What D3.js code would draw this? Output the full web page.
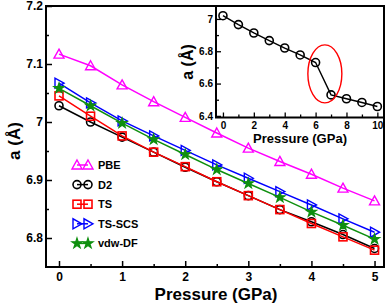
<!DOCTYPE html>
<html>
<head>
<meta charset="utf-8">
<script src="https://cdn.jsdelivr.net/npm/d3@7"></script>
<style>
  body { margin: 0; background: #fff; }
  svg { display: block; font-family: "Liberation Sans", Arial, sans-serif; font-weight: bold; }
</style>
</head>
<body>
<svg id="svg" width="388" height="305"></svg>
<script>
// main panel data
var pressure = [0, 0.5, 1, 1.5, 2, 2.5, 3, 3.5, 4, 4.5, 5];
var pbe   = [7.117, 7.097, 7.064, 7.035, 7.008, 6.981, 6.955, 6.932, 6.910, 6.886, 6.864];
var d2    = [7.028, 7.000, 6.974, 6.948, 6.922, 6.897, 6.873, 6.849, 6.828, 6.806, 6.782];
var ts    = [7.045, 7.010, 6.976, 6.948, 6.923, 6.897, 6.873, 6.849, 6.825, 6.802, 6.779];
var tsscs = [7.067, 7.033, 7.002, 6.976, 6.951, 6.926, 6.903, 6.880, 6.857, 6.833, 6.810];
var vdwdf = [7.058, 7.028, 6.998, 6.970, 6.944, 6.918, 6.894, 6.870, 6.845, 6.822, 6.798];
var seriesNames = ['PBE', 'D2', 'TS', 'TS-SCS', 'vdw-DF'];
var xTicks = [0, 1, 2, 3, 4, 5];
var yTicks = [6.8, 6.9, 7, 7.1, 7.2];

// inset data
var insetP = [0, 1, 2, 3, 4, 5, 6, 7, 8, 9, 10];
var insetA = [7.02, 6.965, 6.913, 6.866, 6.82, 6.777, 6.73, 6.53, 6.506, 6.483, 6.458];
var insetXTicks = [0, 2, 4, 6, 8, 10];
var insetYTicks = [6.4, 6.6, 6.8, 7];

var svg = d3.select('svg');

var mLeft = 46, mTop = 6, mRight = 384, mBottom = 267;

var x = d3.scaleLinear().domain([-0.206, 5.15]).range([mLeft, mRight]);
var y = d3.scaleLinear().domain([6.75, 7.2]).range([mBottom, mTop]);

// minor ticks
svg.append('g')
    .attr('transform', 'translate(0,' + mBottom + ')')
    .call(d3.axisBottom(x).tickValues(d3.range(0.5, 5, 1)).tickSize(-3).tickFormat(''))
    .call(function(g){ g.select('.domain').remove(); });
svg.append('g')
    .attr('transform', 'translate(' + mLeft + ',0)')
    .call(d3.axisLeft(y).tickValues([6.85, 6.95, 7.05, 7.15]).tickSize(-3).tickFormat(''))
    .call(function(g){ g.select('.domain').remove(); });

var xAxis = svg.append('g')
    .attr('transform', 'translate(0,' + mBottom + ')')
    .call(d3.axisBottom(x).tickValues(xTicks).tickSize(-6).tickPadding(5).tickFormat(d3.format('d')));
xAxis.select('.domain').remove();
xAxis.selectAll('text').attr('font-size', 12).attr('font-family', null).attr('fill', '#000');

var yAxis = svg.append('g')
    .attr('transform', 'translate(' + mLeft + ',0)')
    .call(d3.axisLeft(y).tickValues(yTicks).tickSize(-6).tickPadding(3).tickFormat(function(d){ return d === 7 ? '7' : d3.format('.1f')(d); }));
yAxis.select('.domain').remove();
yAxis.selectAll('text').attr('font-size', 12).attr('font-family', null).attr('fill', '#000');

svg.selectAll('.tick line').attr('stroke', '#000').attr('stroke-width', 1.5);

svg.append('rect')
    .attr('x', mLeft).attr('y', mTop)
    .attr('width', mRight - mLeft).attr('height', mBottom - mTop)
    .attr('fill', 'none').attr('stroke', '#000').attr('stroke-width', 2);

svg.append('text')
    .attr('x', 216).attr('y', 300)
    .attr('text-anchor', 'middle')
    .attr('font-size', 17)
    .text('Pressure (GPa)');

svg.append('text')
    .attr('transform', 'translate(20,141) rotate(-90)')
    .attr('text-anchor', 'middle')
    .attr('font-size', 17)
    .text('a (Å)');

var series = [
    {name: seriesNames[0], vals: pbe,   color: '#ff00ff', shape: 'triUp'},
    {name: seriesNames[1], vals: d2,    color: '#000000', shape: 'circle'},
    {name: seriesNames[2], vals: ts,    color: '#ff0000', shape: 'square'},
    {name: seriesNames[3], vals: tsscs, color: '#0000ff', shape: 'triRight'},
    {name: seriesNames[4], vals: vdwdf, color: '#0f8f0f', shape: 'star'}
];

function drawMarker(g, shape, color, cx, cy) {
    if (shape === 'circle') {
        g.append('circle').attr('cx', cx).attr('cy', cy).attr('r', 4)
            .attr('fill', 'none').attr('stroke', color).attr('stroke-width', 1.6);
    } else if (shape === 'square') {
        g.append('rect').attr('x', cx - 4).attr('y', cy - 4).attr('width', 8).attr('height', 8)
            .attr('fill', 'none').attr('stroke', color).attr('stroke-width', 1.6);
    } else if (shape === 'triUp') {
        g.append('path').attr('d', 'M' + cx + ',' + (cy - 5) + 'L' + (cx + 5) + ',' + (cy + 4) + 'L' + (cx - 5) + ',' + (cy + 4) + 'Z')
            .attr('fill', 'none').attr('stroke', color).attr('stroke-width', 1.4);
    } else if (shape === 'triRight') {
        g.append('path').attr('d', 'M' + (cx + 5) + ',' + cy + 'L' + (cx - 4) + ',' + (cy - 5) + 'L' + (cx - 4) + ',' + (cy + 5) + 'Z')
            .attr('fill', 'none').attr('stroke', color).attr('stroke-width', 1.4);
    } else {
        g.append('path').attr('d', d3.symbol().type(d3.symbolStar).size(32)())
            .attr('transform', 'translate(' + cx + ',' + cy + ')')
            .attr('fill', color).attr('stroke', color).attr('stroke-width', 1.2);
    }
}

var line = d3.line()
    .x(function(d, i){ return x(pressure[i]); })
    .y(function(d){ return y(d); });

series.forEach(function(s){
    var g = svg.append('g');
    g.append('path')
        .attr('d', line(s.vals))
        .attr('fill', 'none')
        .attr('stroke', s.color)
        .attr('stroke-width', 1.5);
    s.vals.forEach(function(v, i){
        drawMarker(g, s.shape, s.color, x(pressure[i]), y(v));
    });
});

// legend
series.forEach(function(s, i){
    var ly = 165 + i * 19.6;
    var g = svg.append('g');
    g.append('line').attr('x1', 77).attr('x2', 88).attr('y1', ly).attr('y2', ly)
        .attr('stroke', s.color).attr('stroke-width', 1.5);
    drawMarker(g, s.shape, s.color, 77, ly);
    drawMarker(g, s.shape, s.color, 88, ly);
    g.append('text').attr('x', 98).attr('y', ly + 4)
        .attr('font-size', 11)
        .text(s.name);
});

// inset
var il = 216, it = 6, ir = 384, ib = 117.5;
var xi = d3.scaleLinear().domain([-0.45, 10.43]).range([il, ir]);
var yi = d3.scaleLinear().domain([6.39, 7.08]).range([ib, it]);

svg.append('rect')
    .attr('x', il).attr('y', it).attr('width', ir - il).attr('height', ib - it)
    .attr('fill', '#fff');

var ig = svg.append('g');
ig.append('g')
    .attr('transform', 'translate(0,' + ib + ')')
    .call(d3.axisBottom(xi).tickValues(d3.range(1, 10, 2)).tickSize(-3).tickFormat(''))
    .call(function(g){ g.select('.domain').remove(); });
ig.append('g')
    .attr('transform', 'translate(' + il + ',0)')
    .call(d3.axisLeft(yi).tickValues([6.5, 6.7, 6.9]).tickSize(-3).tickFormat(''))
    .call(function(g){ g.select('.domain').remove(); });

var ixAxis = ig.append('g')
    .attr('transform', 'translate(0,' + ib + ')')
    .call(d3.axisBottom(xi).tickValues(insetXTicks).tickSize(-5).tickPadding(4).tickFormat(d3.format('d')));
ixAxis.select('.domain').remove();
ixAxis.selectAll('text').attr('font-size', 10).attr('font-family', null).attr('fill', '#000');

var iyAxis = ig.append('g')
    .attr('transform', 'translate(' + il + ',0)')
    .call(d3.axisLeft(yi).tickValues(insetYTicks).tickSize(-5).tickPadding(3).tickFormat(function(d){ return d === 7 ? '7' : d3.format('.1f')(d); }));
iyAxis.select('.domain').remove();
iyAxis.selectAll('text').attr('font-size', 10).attr('font-family', null).attr('fill', '#000');

ig.selectAll('.tick line').attr('stroke', '#000').attr('stroke-width', 1.3);

ig.append('rect')
    .attr('x', il).attr('y', it).attr('width', ir - il).attr('height', ib - it)
    .attr('fill', 'none').attr('stroke', '#000').attr('stroke-width', 2);

var iline = d3.line()
    .x(function(d, i){ return xi(insetP[i]); })
    .y(function(d){ return yi(d); });

ig.append('path')
    .attr('d', iline(insetA))
    .attr('fill', 'none').attr('stroke', '#000').attr('stroke-width', 1.4);

insetA.forEach(function(v, i){
    ig.append('circle').attr('cx', xi(insetP[i])).attr('cy', yi(v)).attr('r', 4)
        .attr('fill', 'none').attr('stroke', '#000').attr('stroke-width', 1.6);
});

ig.append('ellipse')
    .attr('cx', xi(6.6)).attr('cy', yi(6.66))
    .attr('rx', 17).attr('ry', 29)
    .attr('fill', 'none').attr('stroke', '#ff0000').attr('stroke-width', 1.4);

ig.append('text')
    .attr('x', 300).attr('y', 143)
    .attr('text-anchor', 'middle')
    .attr('font-size', 13)
    .text('Pressure (GPa)');

ig.append('text')
    .attr('transform', 'translate(193,62) rotate(-90)')
    .attr('text-anchor', 'middle')
    .attr('font-size', 16)
    .text('a (Å)');
</script>
</body>
</html>
